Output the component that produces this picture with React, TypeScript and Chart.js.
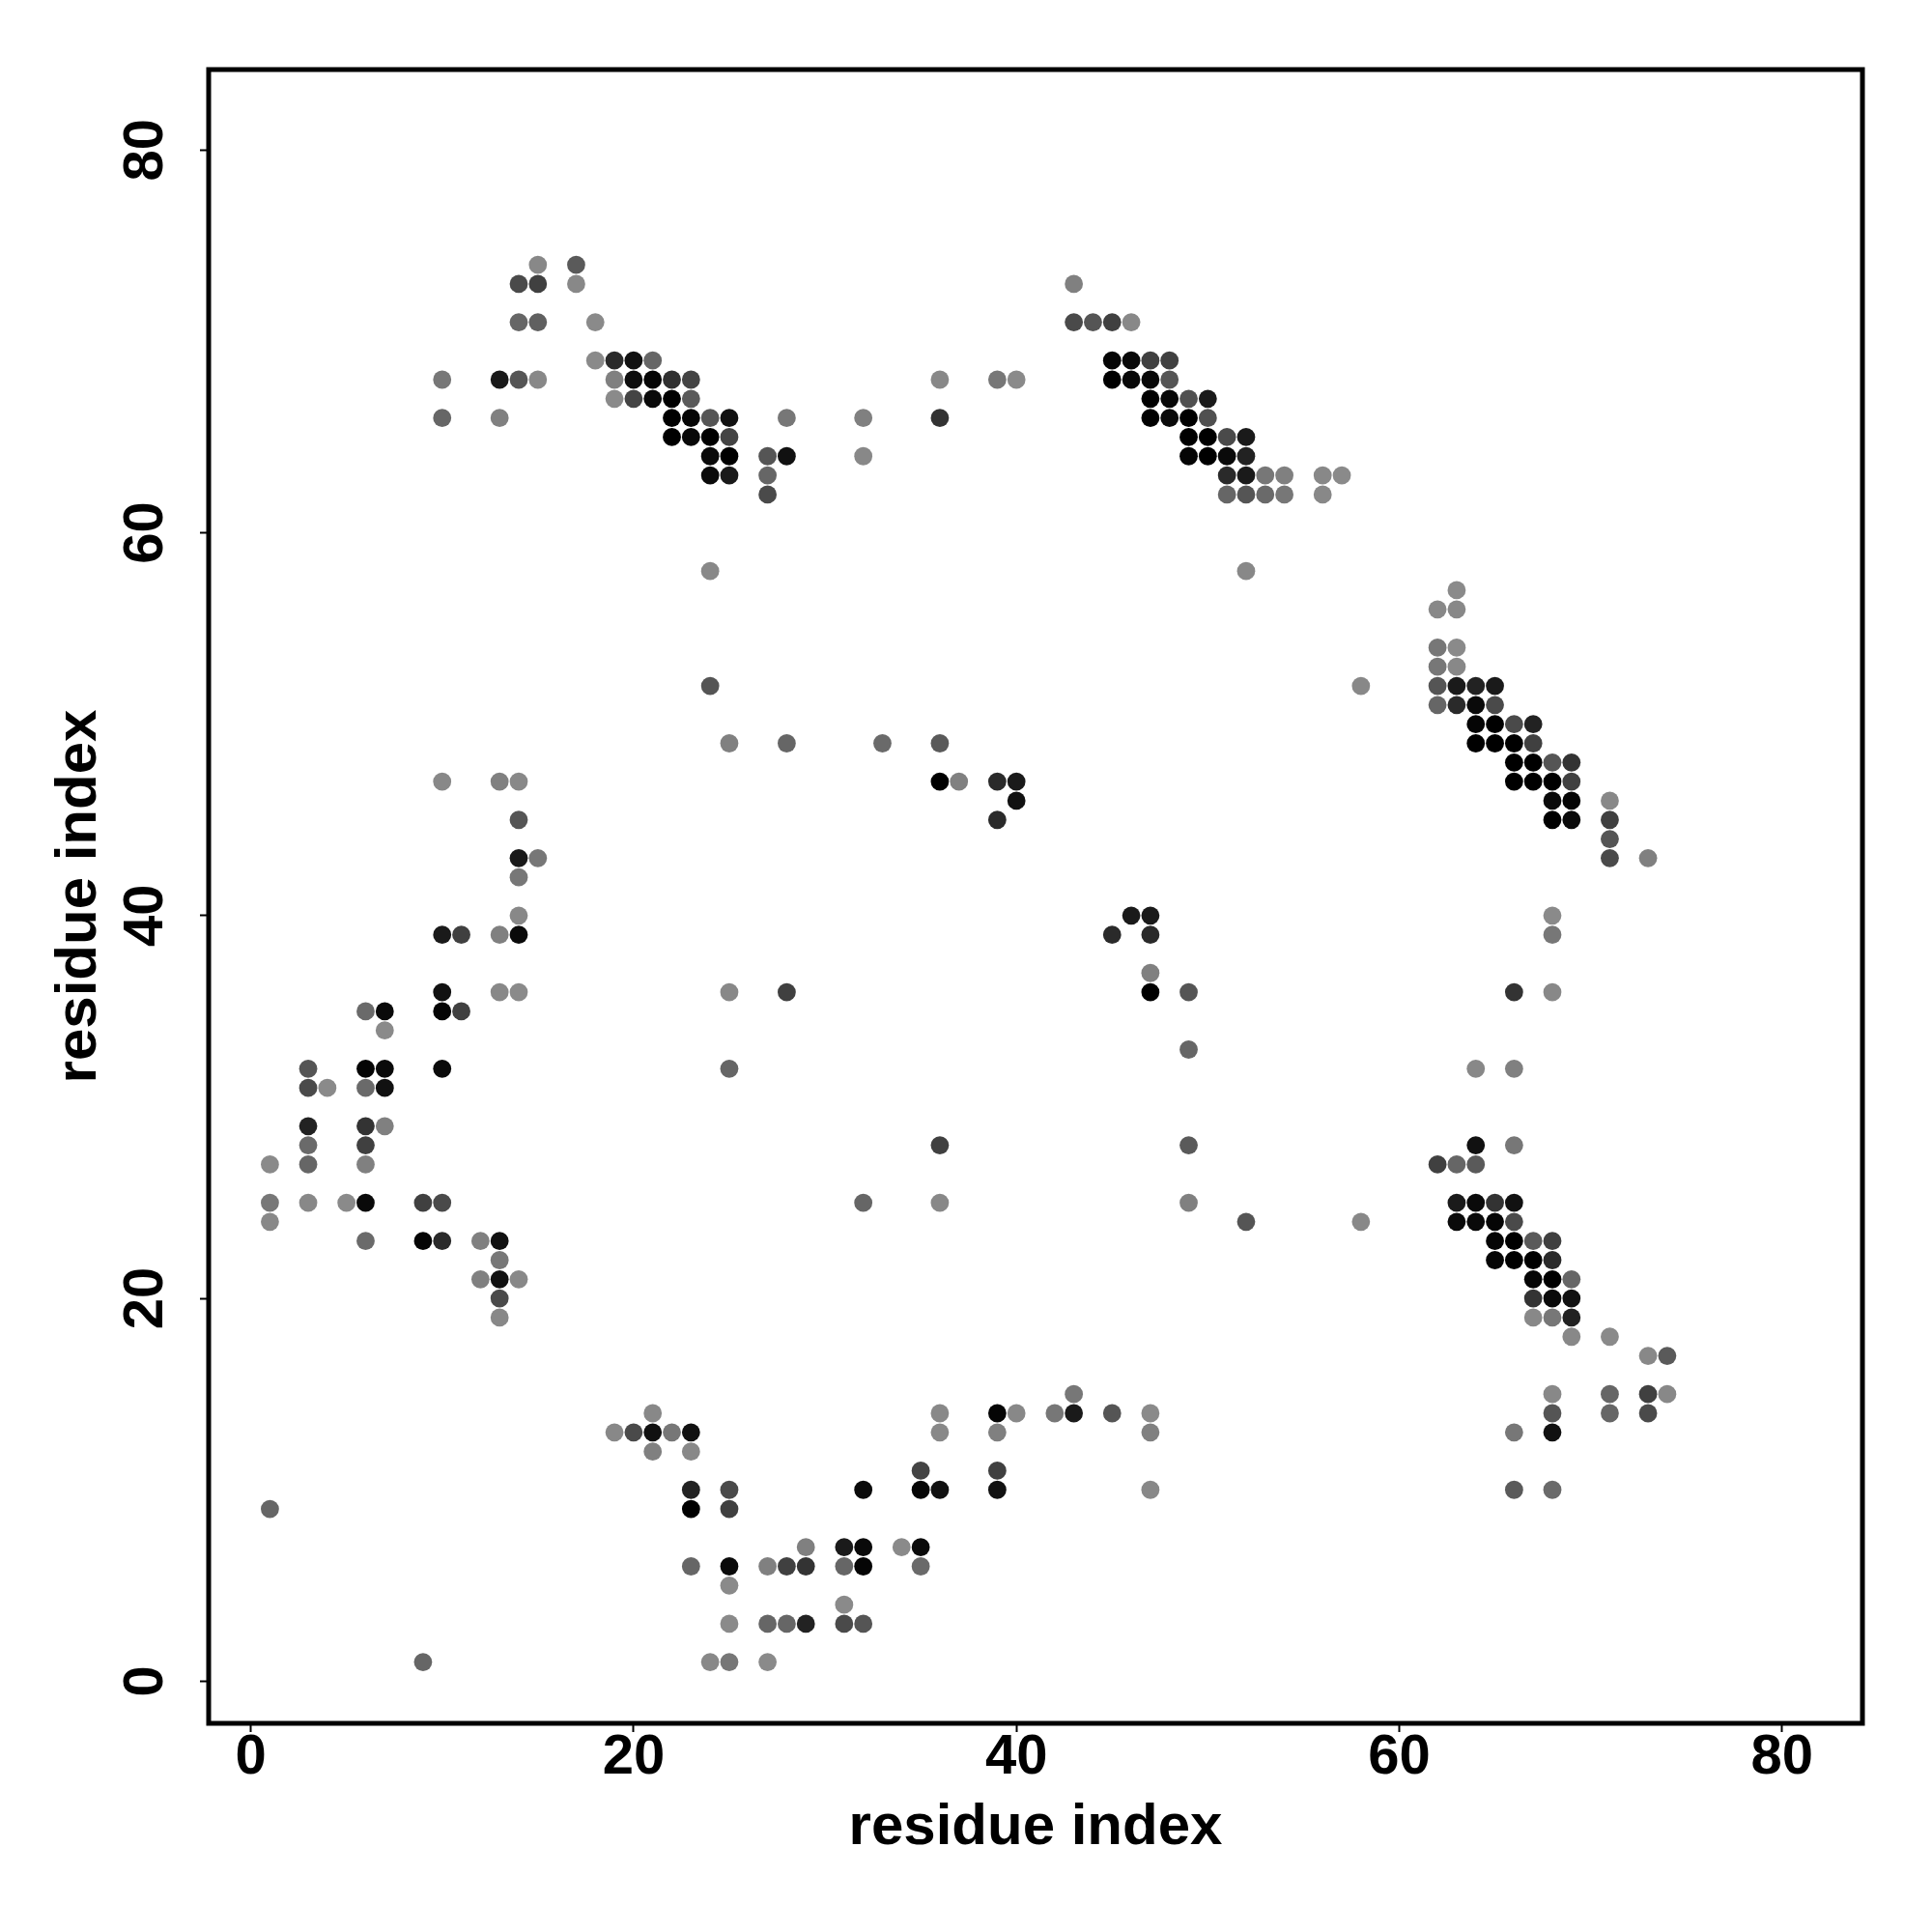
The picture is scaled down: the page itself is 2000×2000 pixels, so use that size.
import { useEffect, useRef } from "react";
import { Chart, registerables } from "chart.js";

Chart.register(...registerables);

// residue index pairs (x, y) and the grey level of each contact point (0 = black)
const xs = [
  15, 17,
  14, 15, 17, 43,
  14, 15, 18, 43, 44, 45, 46,
  18, 19, 20, 21, 45, 46, 47, 48,
  10, 13, 14, 15, 19, 20, 21, 22, 23, 36, 39, 40, 45, 46, 47, 48,
  19, 20, 21, 22, 23, 47, 48, 49, 50,
  10, 13, 22, 23, 24, 25, 28, 32, 36, 47, 48, 49, 50,
  22, 23, 24, 25, 49, 50, 51, 52,
  24, 25, 27, 28, 32, 49, 50, 51, 52,
  24, 25, 27, 51, 52, 53, 54, 56, 57,
  27, 51, 52, 53, 54, 56,
  24, 52,
  63,
  62, 63,
  62, 63,
  62, 63,
  24, 58, 62, 63, 64, 65,
  62, 63, 64, 65,
  64, 65, 66, 67,
  25, 28, 33, 36, 64, 65, 66, 67,
  66, 67, 68, 69,
  10, 13, 14, 36, 37, 39, 40, 66, 67, 68, 69,
  40, 68, 69, 71,
  14, 39, 68, 69, 71,
  71,
  14, 15, 71, 73,
  14,
  14, 46, 47, 68,
  10, 11, 13, 14, 45, 47, 68,
  47,
  10, 13, 14, 25, 28, 47, 49, 66, 68,
  6, 7, 10, 11,
  7,
  49,
  3, 6, 7, 10, 25, 64, 66,
  3, 4, 6, 7,
  3, 6, 7,
  3, 6, 36, 49, 64, 66,
  1, 3, 6, 62, 63, 64,
  1, 3, 5, 6, 9, 10, 32, 36, 49, 63, 64, 65, 66,
  1, 52, 58, 63, 64, 65, 66,
  6, 9, 10, 12, 13, 65, 66, 67, 68,
  13, 65, 66, 67, 68,
  12, 13, 14, 67, 68, 69,
  13, 67, 68, 69,
  13, 67, 68, 69,
  69, 71,
  73, 74,
  43, 68, 71, 73, 74,
  21, 36, 39, 40, 42, 43, 45, 47, 68, 71, 73,
  19, 20, 21, 22, 23, 36, 39, 47, 66, 68,
  21, 23,
  35, 39,
  23, 25, 32, 35, 36, 39, 47, 66, 68,
  1, 23, 25,
  29, 31, 32, 34, 35,
  23, 25, 27, 28, 29, 31, 32, 35,
  25,
  31,
  25, 27, 28, 29, 31, 32,
  9, 24, 25, 27,
];

const ys = [
  74, 74,
  73, 73, 73, 73,
  71, 71, 71, 71, 71, 71, 71,
  69, 69, 69, 69, 69, 69, 69, 69,
  68, 68, 68, 68, 68, 68, 68, 68, 68, 68, 68, 68, 68, 68, 68, 68,
  67, 67, 67, 67, 67, 67, 67, 67, 67,
  66, 66, 66, 66, 66, 66, 66, 66, 66, 66, 66, 66, 66,
  65, 65, 65, 65, 65, 65, 65, 65,
  64, 64, 64, 64, 64, 64, 64, 64, 64,
  63, 63, 63, 63, 63, 63, 63, 63, 63,
  62, 62, 62, 62, 62, 62,
  58, 58,
  57,
  56, 56,
  54, 54,
  53, 53,
  52, 52, 52, 52, 52, 52,
  51, 51, 51, 51,
  50, 50, 50, 50,
  49, 49, 49, 49, 49, 49, 49, 49,
  48, 48, 48, 48,
  47, 47, 47, 47, 47, 47, 47, 47, 47, 47, 47,
  46, 46, 46, 46,
  45, 45, 45, 45, 45,
  44,
  43, 43, 43, 43,
  42,
  40, 40, 40, 40,
  39, 39, 39, 39, 39, 39, 39,
  37,
  36, 36, 36, 36, 36, 36, 36, 36, 36,
  35, 35, 35, 35,
  34,
  33,
  32, 32, 32, 32, 32, 32, 32,
  31, 31, 31, 31,
  29, 29, 29,
  28, 28, 28, 28, 28, 28,
  27, 27, 27, 27, 27, 27,
  25, 25, 25, 25, 25, 25, 25, 25, 25, 25, 25, 25, 25,
  24, 24, 24, 24, 24, 24, 24,
  23, 23, 23, 23, 23, 23, 23, 23, 23,
  22, 22, 22, 22, 22,
  21, 21, 21, 21, 21, 21,
  20, 20, 20, 20,
  19, 19, 19, 19,
  18, 18,
  17, 17,
  15, 15, 15, 15, 15,
  14, 14, 14, 14, 14, 14, 14, 14, 14, 14, 14,
  13, 13, 13, 13, 13, 13, 13, 13, 13, 13,
  12, 12,
  11, 11,
  10, 10, 10, 10, 10, 10, 10, 10, 10,
  9, 9, 9,
  7, 7, 7, 7, 7,
  6, 6, 6, 6, 6, 6, 6, 6,
  5,
  4,
  3, 3, 3, 3, 3, 3,
  1, 1, 1, 1,
];

const greys = [
  136, 90,
  74, 64, 136, 128,
  102, 96, 138, 74, 85, 64, 136,
  138, 42, 17, 102, 5, 8, 64, 64,
  119, 26, 85, 136, 128, 13, 5, 48, 68, 136, 119, 138, 0, 8, 8, 85,
  138, 68, 10, 0, 90, 0, 8, 80, 26,
  102, 128, 0, 5, 85, 17, 119, 128, 51, 0, 10, 0, 80,
  0, 8, 0, 68, 0, 0, 74, 26,
  10, 0, 85, 17, 136, 5, 0, 10, 34,
  10, 26, 102, 42, 26, 119, 128, 136, 138,
  74, 102, 85, 106, 119, 136,
  136, 136,
  138,
  136, 136,
  119, 138,
  119, 136,
  85, 136, 85, 26, 34, 26,
  102, 42, 10, 74,
  5, 0, 74, 34,
  128, 102, 106, 90, 0, 0, 0, 64,
  0, 0, 85, 51,
  136, 128, 136, 0, 128, 42, 26, 0, 0, 0, 64,
  17, 10, 5, 136,
  85, 42, 0, 10, 64,
  85,
  26, 119, 74, 128,
  119,
  136, 26, 26, 138,
  26, 64, 128, 10, 42, 42, 119,
  128,
  17, 136, 138, 136, 64, 0, 85, 51, 136,
  106, 10, 5, 64,
  138,
  102,
  85, 5, 10, 10, 102, 136, 128,
  74, 138, 106, 17,
  34, 51, 128,
  106, 64, 64, 90, 17, 119,
  138, 102, 128, 64, 102, 90,
  119, 136, 138, 10, 64, 74, 102, 136, 128, 26, 10, 51, 17,
  136, 85, 136, 10, 10, 5, 74,
  106, 5, 42, 128, 17, 5, 0, 90, 64,
  119, 5, 0, 0, 42,
  128, 17, 136, 5, 0, 102,
  74, 51, 10, 17,
  136, 136, 119, 34,
  136, 138,
  136, 90,
  119, 136, 102, 64, 136,
  136, 136, 5, 136, 119, 26, 85, 138, 85, 102, 74,
  136, 74, 17, 119, 17, 136, 128, 128, 119, 17,
  128, 136,
  68, 64,
  34, 74, 10, 5, 17, 17, 136, 90, 106,
  102, 0, 64,
  128, 26, 10, 138, 10,
  102, 10, 128, 64, 51, 102, 5, 106,
  138,
  138,
  138, 102, 102, 34, 74, 85,
  102, 136, 119, 138,
];

const tickValues = [0, 20, 40, 60, 80];
const axisMin = -2.2;
const axisMax = 84.2;
const xTitle = "residue index";
const yTitle = "residue index";

const FONT = "'Liberation Sans', Arial, Helvetica, sans-serif";

const framePlugin = {
  id: "frame",
  afterDatasetsDraw(chart: any) {
    const { ctx, chartArea: a } = chart;
    ctx.save();
    ctx.strokeStyle = "#000";
    ctx.lineWidth = 5;
    ctx.lineJoin = "miter";
    ctx.strokeRect(a.left, a.top, a.right - a.left, a.bottom - a.top);
    ctx.restore();
  },
};

export default function App() {
  const ref = useRef<HTMLCanvasElement | null>(null);

  useEffect(() => {
    if (!ref.current) return;
    const points = xs.map((x, i) => ({ x, y: ys[i] }));
    const colors = greys.map((g) => `rgb(${g},${g},${g})`);
    const chart = new Chart(ref.current, {
      type: "scatter",
      data: {
        datasets: [
          {
            data: points,
            pointRadius: 9.4,
            pointHoverRadius: 9.4,
            pointBackgroundColor: colors,
            pointBorderColor: colors,
            pointBorderWidth: 0,
            showLine: false,
          },
        ],
      },
      options: {
        animation: false,
        responsive: false,
        devicePixelRatio: 1,
        events: [],
        layout: { padding: { left: 0, right: 72, top: 72, bottom: 0 } },
        plugins: {
          legend: { display: false },
          tooltip: { enabled: false },
        },
        scales: {
          x: {
            type: "linear",
            position: "bottom",
            min: axisMin,
            max: axisMax,
            afterBuildTicks: (s: any) => {
              s.ticks = tickValues.map((v) => ({ value: v }));
            },
            afterFit: (s: any) => {
              s.height = 216;
            },
            border: { display: false },
            grid: {
              drawOnChartArea: false,
              drawTicks: true,
              tickLength: 9,
              tickWidth: 2,
              tickColor: "#000",
            },
            ticks: {
              autoSkip: false,
              minRotation: 0,
              maxRotation: 0,
              padding: -2,
              color: "#000",
              font: { family: FONT, size: 58, weight: "bold", lineHeight: 1 },
            },
            title: {
              display: true,
              text: xTitle,
              color: "#000",
              font: { family: FONT, size: 60, weight: "bold", lineHeight: 1.2 },
              padding: { top: 0, bottom: 72 },
            },
          },
          y: {
            type: "linear",
            position: "left",
            min: axisMin,
            max: axisMax,
            afterBuildTicks: (s: any) => {
              s.ticks = tickValues.map((v) => ({ value: v }));
            },
            afterFit: (s: any) => {
              s.width = 216;
            },
            border: { display: false },
            grid: {
              drawOnChartArea: false,
              drawTicks: true,
              tickLength: 9,
              tickWidth: 2,
              tickColor: "#000",
            },
            ticks: {
              autoSkip: false,
              minRotation: 90,
              maxRotation: 90,
              crossAlign: "center",
              padding: 23,
              color: "#000",
              font: { family: FONT, size: 58, weight: "bold", lineHeight: 1 },
            },
            title: {
              display: true,
              text: yTitle,
              color: "#000",
              font: { family: FONT, size: 60, weight: "bold", lineHeight: 1.2 },
              padding: { top: 46, bottom: 0 },
            },
          },
        },
      },
      plugins: [framePlugin],
    } as any);
    return () => chart.destroy();
  }, []);

  return (
    <div style={{ position: "absolute", left: 0, top: 0, width: 2000, height: 2000, background: "#fff" }}>
      <canvas ref={ref} width={2000} height={2000} style={{ width: 2000, height: 2000, display: "block" }} />
    </div>
  );
}
